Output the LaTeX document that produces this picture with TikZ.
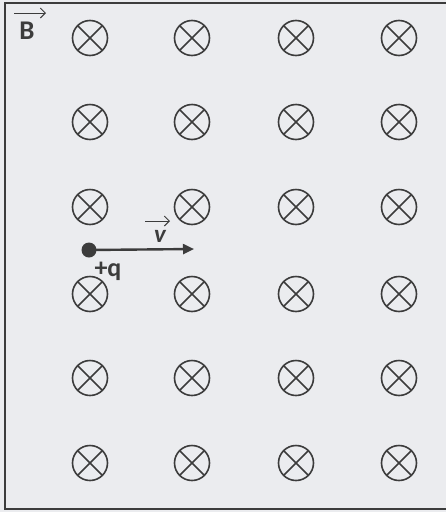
\documentclass[tikz,border=0pt]{standalone}
\usepackage{fontspec}
\setmainfont{Carlito}
\usetikzlibrary{arrows.meta}
\definecolor{bg}{HTML}{EBECEF}
\definecolor{ink}{HTML}{3C3C3C}
\tikzset{
  fieldin/.style={circle, draw=ink, line width=1.6pt, minimum size=35pt, inner sep=0pt,
    path picture={\draw[ink, line width=1.6pt] (path picture bounding box.north west) -- (path picture bounding box.south east)
      (path picture bounding box.north east) -- (path picture bounding box.south west);}},
  lbl/.style={text=ink, font=\bfseries, inner sep=0pt},
  vecarrow/.style={ink, line width=1pt, -{Straight Barb[length=5pt,width=10pt]}}
}
\begin{document}
\begin{tikzpicture}[x=1pt,y=-1pt]
\fill[bg] (0,0) rectangle (446,512);
\useasboundingbox (0,0) rectangle (446,512);
\draw[ink, line width=1.2pt] (446,3) -- (5,3) -- (5,509) -- (446,509);
\foreach \r/\y in {1/38,2/122,3/207,4/294,5/378,6/463}{
  \foreach \c/\x in {1/90,2/192,3/296,4/399}{
    \node[fieldin] (f\r\c) at (\x,\y) {};
  }
}
\node[lbl, font=\bfseries\fontsize{27}{27}\selectfont] (B) at (27,31) {B};
\coordinate (Ba) at (14,13);
\coordinate (Bb) at (46,13);
\draw[vecarrow] (Ba) -- (Bb);
\node[circle, fill=ink, minimum size=15pt, inner sep=0pt] (q) at (89,250) {};
\coordinate (vend) at (194,249);
\draw[ink, line width=2.4pt, -{Triangle[length=11pt,width=10pt]}] (q.center) -- (vend);
\node[lbl, font=\bfseries\fontsize{26}{26}\selectfont] (ql) at (108,271) {+q};
\node[lbl, font=\bfseries\itshape\fontsize{25}{25}\selectfont] (v) at (160,236) {v};
\coordinate (va) at (145,221);
\coordinate (vb) at (170,221);
\draw[vecarrow] (va) -- (vb);
\end{tikzpicture}
\end{document}
